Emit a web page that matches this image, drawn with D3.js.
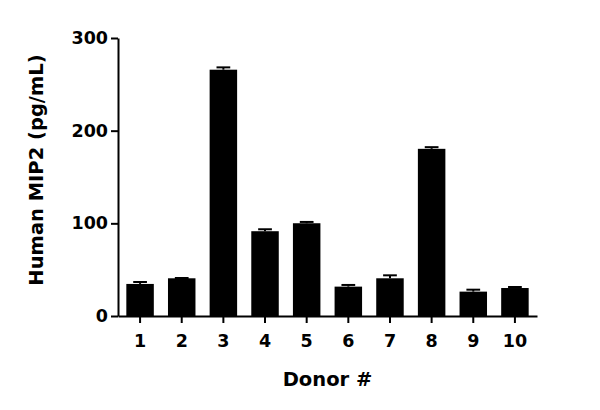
<!DOCTYPE html>
<html>
<head>
    <script src="https://d3js.org/d3.v7.min.js"></script>
    <style>
        body { margin: 0; background: #fff; }
        .axis path, .axis line { stroke: #000; stroke-width: 2px; }
        .axis text { font-family: 'DejaVu Sans', sans-serif; font-weight: bold; font-size: 17.5px; fill: #000; }
        .label { font-family: 'DejaVu Sans', sans-serif; font-weight: bold; font-size: 19.5px; fill: #000; }
    </style>
</head>
<body>
<div id="chart"></div>
<script>
    // Values
    const donors = ["1", "2", "3", "4", "5", "6", "7", "8", "9", "10"];
    const means = [34.6, 40.7, 265.8, 91.5, 100.1, 31.7, 40.7, 180.4, 26.3, 30.2];
    const errors = [2.1, 0.3, 2.5, 2.1, 1.4, 1.8, 3.2, 1.8, 2.1, 1.1];
    const yTicks = [0, 100, 200, 300];

    const margin = {top: 38, right: 63, bottom: 94, left: 118};
    const width = 600 - margin.left - margin.right;
    const height = 410 - margin.top - margin.bottom;

    const svg = d3.select("#chart").append("svg")
        .attr("width", 600)
        .attr("height", 410)
        .append("g")
        .attr("transform", `translate(${margin.left},${margin.top})`);

    const x = d3.scaleBand()
        .domain(donors)
        .range([0, width])
        .paddingInner(0.34)
        .paddingOuter(0.2);

    const y = d3.scaleLinear()
        .domain([0, 300])
        .range([height, 0]);

    const data = donors.map((d, i) => ({donor: d, mean: means[i], err: errors[i]}));

    // bars
    svg.selectAll(".bar")
        .data(data)
        .enter().append("rect")
        .attr("x", d => x(d.donor))
        .attr("y", d => y(d.mean))
        .attr("width", x.bandwidth())
        .attr("height", d => y(0) - y(d.mean))
        .attr("fill", "#000");

    // upper error bars
    const cx = d => x(d.donor) + x.bandwidth() / 2;
    const capW = x.bandwidth() * 0.5;
    svg.selectAll(".err")
        .data(data)
        .enter().append("line")
        .attr("x1", cx).attr("x2", cx)
        .attr("y1", d => y(d.mean))
        .attr("y2", d => y(d.mean + d.err))
        .attr("stroke", "#000").attr("stroke-width", 2);
    svg.selectAll(".cap")
        .data(data)
        .enter().append("line")
        .attr("x1", d => cx(d) - capW / 2)
        .attr("x2", d => cx(d) + capW / 2)
        .attr("y1", d => y(d.mean + d.err))
        .attr("y2", d => y(d.mean + d.err))
        .attr("stroke", "#000").attr("stroke-width", 2);

    // axes
    svg.append("g")
        .attr("class", "axis")
        .attr("transform", `translate(0,${height})`)
        .call(d3.axisBottom(x).tickSize(7).tickSizeOuter(0).tickPadding(12));

    svg.append("g")
        .attr("class", "axis")
        .call(d3.axisLeft(y).tickValues(yTicks).tickSize(7).tickSizeOuter(0).tickPadding(3));

    // axis titles
    svg.append("text")
        .attr("class", "label")
        .attr("x", width / 2)
        .attr("y", height + 70)
        .attr("text-anchor", "middle")
        .text("Donor #");

    svg.append("text")
        .attr("class", "label")
        .attr("transform", "rotate(-90)")
        .attr("x", -132)
        .attr("y", -75)
        .attr("text-anchor", "middle")
        .text("Human MIP2 (pg/mL)");
</script>
</body>
</html>
